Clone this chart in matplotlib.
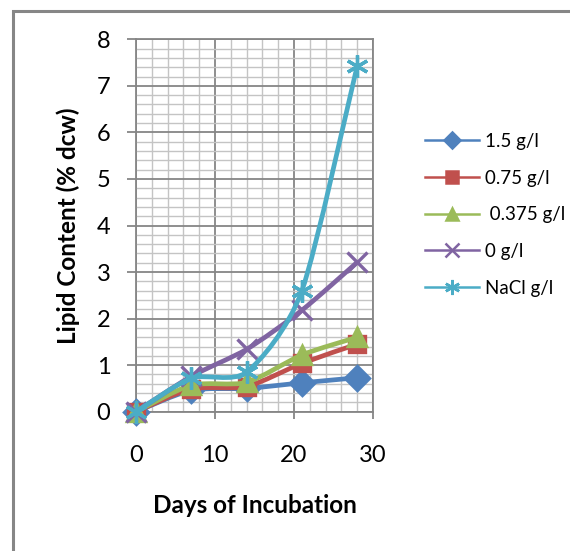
import matplotlib.pyplot as plt
import matplotlib.patches as mpatches
from matplotlib.path import Path
from matplotlib.lines import Line2D
from matplotlib.ticker import MultipleLocator

plt.rcParams['font.family'] = ['Lato', 'DejaVu Sans']

days = [0, 7, 14, 21, 28]
labels = ['1.5 g/l', '0.75 g/l', ' 0.375 g/l', '0 g/l', 'NaCl g/l']
lipid_15 = [0, 0.46, 0.50, 0.62, 0.73]
lipid_075 = [0, 0.49, 0.54, 1.04, 1.45]
lipid_0375 = [0, 0.57, 0.63, 1.22, 1.60]
lipid_0 = [0, 0.76, 1.34, 2.18, 3.21]
lipid_nacl = [0, 0.72, 0.85, 2.60, 7.43]

series = [lipid_15, lipid_075, lipid_0375, lipid_0, lipid_nacl]
colors = ['#4F81BD', '#C0504D', '#9BBB59', '#8064A2', '#4BACC6']
markers = ['D', 's', '^', 'x', (6, 2, 0)]
msizes = [12, 12, 13, 14, 16]


def smooth_path(xs, ys, f=1 / 8):
    # excel style smoothed line: catmull-rom like cubic beziers
    pts = list(zip(xs, ys))
    verts = [pts[0]]
    codes = [Path.MOVETO]
    n = len(pts)
    for i in range(n - 1):
        p0 = pts[max(i - 1, 0)]
        p1 = pts[i]
        p2 = pts[i + 1]
        p3 = pts[min(i + 2, n - 1)]
        c1 = (p1[0] + (p2[0] - p0[0]) * f, p1[1] + (p2[1] - p0[1]) * f)
        c2 = (p2[0] - (p3[0] - p1[0]) * f, p2[1] - (p3[1] - p1[1]) * f)
        verts += [c1, c2, p2]
        codes += [Path.CURVE4] * 3
    return Path(verts, codes)


fig = plt.figure(figsize=(5.7, 5.51), dpi=100)
ax = fig.add_axes([136 / 570, 1 - 411.7 / 551, 237 / 570, 372.4 / 551])

grey = '#868686'
handles = []
for k, (vals, c, m, ms, lab) in enumerate(zip(series, colors, markers, msizes, labels)):
    patch = mpatches.PathPatch(smooth_path(days, vals), fill=False, edgecolor=c,
                               linewidth=3.4, zorder=3 + 2 * k, capstyle='round',
                               joinstyle='round')
    ax.add_patch(patch)
    ax.plot(days, vals, linestyle='none', marker=m, markersize=ms, color=c,
            markeredgecolor=c, markeredgewidth=2.4, zorder=4 + 2 * k, clip_on=False)
    handles.append(Line2D([], [], color=c, linewidth=1.8, marker=m,
                          markersize=ms * 0.68, markeredgewidth=1.8, label=lab))

ax.set_xlim(0, 30)
ax.set_ylim(0, 8)
ax.xaxis.set_major_locator(MultipleLocator(10))
ax.xaxis.set_minor_locator(MultipleLocator(2))
ax.yaxis.set_major_locator(MultipleLocator(1))
ax.yaxis.set_minor_locator(MultipleLocator(0.2))

ax.grid(which='major', color=grey, linewidth=1.3, zorder=1)
ax.grid(which='minor', color='#c4c4c4', linewidth=1.0, zorder=0)
ax.set_axisbelow(True)
for s in ax.spines.values():
    s.set_color(grey)
    s.set_linewidth(1.3)

ax.tick_params(axis='y', which='major', length=6.5, width=1.3, color=grey,
               pad=12, labelsize=17)
ax.tick_params(axis='x', which='major', length=5, width=1.3, color=grey,
               pad=19, labelsize=17)
ax.tick_params(which='minor', length=0)

ax.set_xlabel('Days of Incubation', fontsize=17.5, fontweight='bold', labelpad=20)
ax.set_ylabel('Lipid Content (% dcw)', fontsize=17.5, fontweight='bold', labelpad=12)

leg = fig.legend(handles=handles, loc='upper left', bbox_to_anchor=(408 / 570, 1 - 116 / 551),
                 frameon=False, fontsize=13.5, handlelength=2.9, handletextpad=0.3,
                 labelspacing=1.05)

border = mpatches.Rectangle((12.5 / 570, -0.1), 1.2, 1.1 - 10.5 / 551,
                            transform=fig.transFigure, fill=False,
                            edgecolor=grey, linewidth=2.2, clip_on=False)
fig.add_artist(border)

fig.savefig('out.png', dpi=100)
